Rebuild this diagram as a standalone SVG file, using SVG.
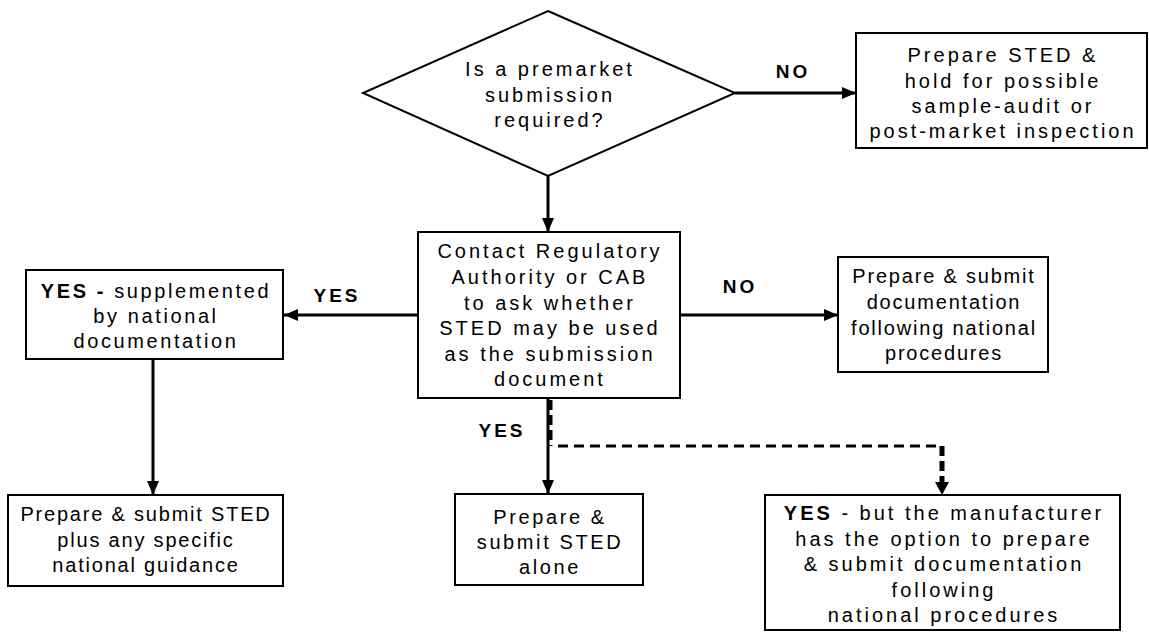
<svg xmlns="http://www.w3.org/2000/svg" width="1149" height="632" viewBox="0 0 1149 632">
<defs>
<style>
.box{fill:#fff;stroke:#000;stroke-width:2}
.t{font-family:"Liberation Sans",Arial,sans-serif;font-size:20px;letter-spacing:3px;text-anchor:middle;fill:#000}
.n{letter-spacing:1.8px}
.m{letter-spacing:2.6px}
.b{font-weight:bold}
.lbl{font-family:"Liberation Sans",Arial,sans-serif;font-size:19px;font-weight:bold;letter-spacing:3px;text-anchor:middle;fill:#000}
.c{stroke:#000;stroke-width:3;fill:none}
.d{stroke:#000;stroke-width:3;fill:none;stroke-dasharray:10 6}
.dt{stroke:#000;stroke-width:5;fill:none;stroke-dasharray:10 5}
</style>
<marker id="ah" viewBox="0 0 14 12" refX="14" refY="6" markerWidth="14" markerHeight="12" markerUnits="userSpaceOnUse" orient="auto">
<path d="M0,0 L14,6 L0,12 Z" fill="#000"/>
</marker>
</defs>
<rect width="1149" height="632" fill="#fff"/>
<g id="connectors">
<line class="c" x1="735" y1="93" x2="856" y2="93" marker-end="url(#ah)"/>
<line class="c" x1="548" y1="176" x2="548" y2="232" marker-end="url(#ah)"/>
<line class="c" x1="418" y1="315" x2="284" y2="315" marker-end="url(#ah)"/>
<line class="c" x1="680" y1="315" x2="838" y2="315" marker-end="url(#ah)"/>
<line class="c" x1="153" y1="359" x2="153" y2="495" marker-end="url(#ah)"/>
<line class="c" x1="548" y1="398" x2="548" y2="494" marker-end="url(#ah)"/>
<line class="dt" x1="550" y1="400" x2="550" y2="446"/>
<line class="d" x1="558" y1="446" x2="942" y2="446"/>
<line class="dt" x1="942" y1="446" x2="942" y2="485"/>
<path d="M935,482 L949,482 L942,495 Z" fill="#000"/>
<text class="lbl" x="793" y="78">NO</text>
<text class="lbl" x="337" y="302">YES</text>
<text class="lbl" x="740" y="293">NO</text>
<text class="lbl" x="502" y="437">YES</text>
</g>
<g id="n-decision">
<polygon class="box" points="548,11 735,93 548,176 363,93"/>
<text class="t" x="550" y="76">Is a premarket</text>
<text class="t" x="550" y="101.5">submission</text>
<text class="t" x="550" y="127">required?</text>
</g>
<g id="n-sted-hold">
<rect class="box" x="856" y="33" width="291" height="115"/>
<text class="t" x="1003" y="62">Prepare STED &amp;</text>
<text class="t" x="1003" y="87.5">hold for possible</text>
<text class="t" x="1003" y="113">sample-audit or</text>
<text class="t" x="1003" y="138">post-market inspection</text>
</g>
<g id="n-contact">
<rect class="box" x="418" y="232" width="262" height="166"/>
<text class="t" x="550" y="258">Contact Regulatory</text>
<text class="t" x="550" y="284">Authority or CAB</text>
<text class="t" x="550" y="309.5">to ask whether</text>
<text class="t" x="550" y="335">STED may be used</text>
<text class="t" x="550" y="360.5">as the submission</text>
<text class="t" x="550" y="386">document</text>
</g>
<g id="n-yes-supplemented">
<rect class="box" x="26" y="270" width="257" height="89"/>
<text class="t m" x="156" y="298"><tspan class="b">YES -</tspan> supplemented</text>
<text class="t m" x="156" y="323">by national</text>
<text class="t m" x="156" y="348">documentation</text>
</g>
<g id="n-national">
<rect class="box" x="838" y="257" width="210" height="115"/>
<text class="t n" x="944" y="283">Prepare &amp; submit</text>
<text class="t n" x="944" y="309">documentation</text>
<text class="t n" x="944" y="334.5">following national</text>
<text class="t n" x="944" y="360">procedures</text>
</g>
<g id="n-sted-plus">
<rect class="box" x="8" y="495" width="275" height="91"/>
<text class="t n" x="146" y="521">Prepare &amp; submit STED</text>
<text class="t n" x="146" y="547">plus any specific</text>
<text class="t n" x="146" y="572">national guidance</text>
</g>
<g id="n-sted-alone">
<rect class="box" x="455" y="494" width="188" height="91"/>
<text class="t m" x="550" y="524">Prepare &amp;</text>
<text class="t m" x="550" y="549">submit STED</text>
<text class="t m" x="550" y="574">alone</text>
</g>
<g id="n-option">
<rect class="box" x="765" y="495" width="355" height="135"/>
<text class="t" x="944" y="520"><tspan class="b">YES</tspan> - but the manufacturer</text>
<text class="t" x="944" y="545.5">has the option to prepare</text>
<text class="t" x="944" y="571">&amp; submit documentation</text>
<text class="t" x="944" y="596.5">following</text>
<text class="t" x="944" y="622">national procedures</text>
</g>
</svg>
